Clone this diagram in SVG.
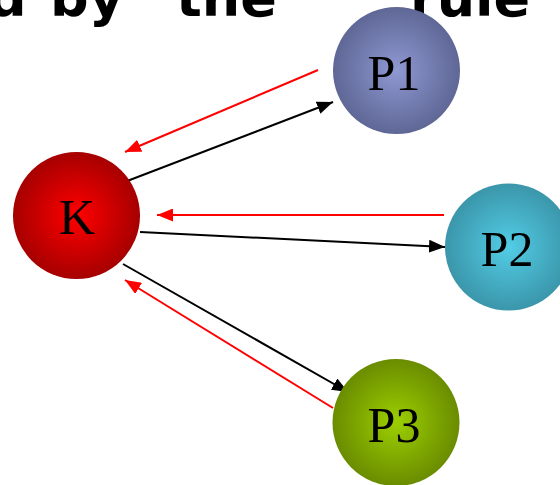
<svg xmlns="http://www.w3.org/2000/svg" width="560" height="485" viewBox="0 0 560 485">
<style>
.title{font-family:"DejaVu Sans",sans-serif;font-weight:bold;font-size:54px;fill:#000}
.lbl{font-family:"Liberation Serif","Times New Roman",serif;font-size:50px;fill:#000;text-anchor:middle}
.blk{stroke:#000;stroke-width:2;fill:none}
.red{stroke:#ff0000;stroke-width:2;fill:none}
</style>
<defs>
<radialGradient id="gK"><stop offset="0" stop-color="#ff0000"/><stop offset="1" stop-color="#a60000"/></radialGradient>
<radialGradient id="gP1"><stop offset="0" stop-color="#8f99d2"/><stop offset="1" stop-color="#5e6795"/></radialGradient>
<radialGradient id="gP2"><stop offset="0" stop-color="#52cde6"/><stop offset="1" stop-color="#3b96aa"/></radialGradient>
<radialGradient id="gP3"><stop offset="0" stop-color="#9ccf00"/><stop offset="1" stop-color="#6a8c00"/></radialGradient>
<marker id="ab" markerUnits="userSpaceOnUse" markerWidth="17" markerHeight="13" refX="16" refY="6.5" orient="auto"><path d="M0,0 L16,6.5 L0,13 z" fill="#000"/></marker>
<marker id="ar" markerUnits="userSpaceOnUse" markerWidth="17" markerHeight="13" refX="16" refY="6.5" orient="auto"><path d="M0,0 L16,6.5 L0,13 z" fill="#ff0000"/></marker>
</defs>
<text class="title" y="16"><tspan x="-12">d</tspan> <tspan x="50">by</tspan> <tspan x="176">the</tspan></text>
<text class="title" x="410" y="16">rule</text>
<g id="connectors">
<line class="red" x1="318" y1="70" x2="125" y2="152" marker-end="url(#ar)"/>
<line class="blk" x1="122" y1="183" x2="333" y2="102" marker-end="url(#ab)"/>
<line class="red" x1="444" y1="215" x2="157" y2="215" marker-end="url(#ar)"/>
<line class="blk" x1="140" y1="232" x2="445" y2="247" marker-end="url(#ab)"/>
<line class="blk" x1="123" y1="264" x2="348" y2="392" marker-end="url(#ab)"/>
<line class="red" x1="333" y1="408" x2="125" y2="280" marker-end="url(#ar)"/>
</g>
<g id="K"><circle cx="76.5" cy="215.5" r="63.5" fill="url(#gK)"/><text class="lbl" x="77" y="234">K</text></g>
<g id="P1"><circle cx="396.5" cy="70.5" r="63.5" fill="url(#gP1)"/><text class="lbl" x="394" y="90">P1</text></g>
<g id="P2"><circle cx="508.5" cy="247" r="63.5" fill="url(#gP2)"/><text class="lbl" x="507" y="266">P2</text></g>
<g id="P3"><circle cx="396" cy="422.5" r="63.5" fill="url(#gP3)"/><text class="lbl" x="394" y="442">P3</text></g>
</svg>
